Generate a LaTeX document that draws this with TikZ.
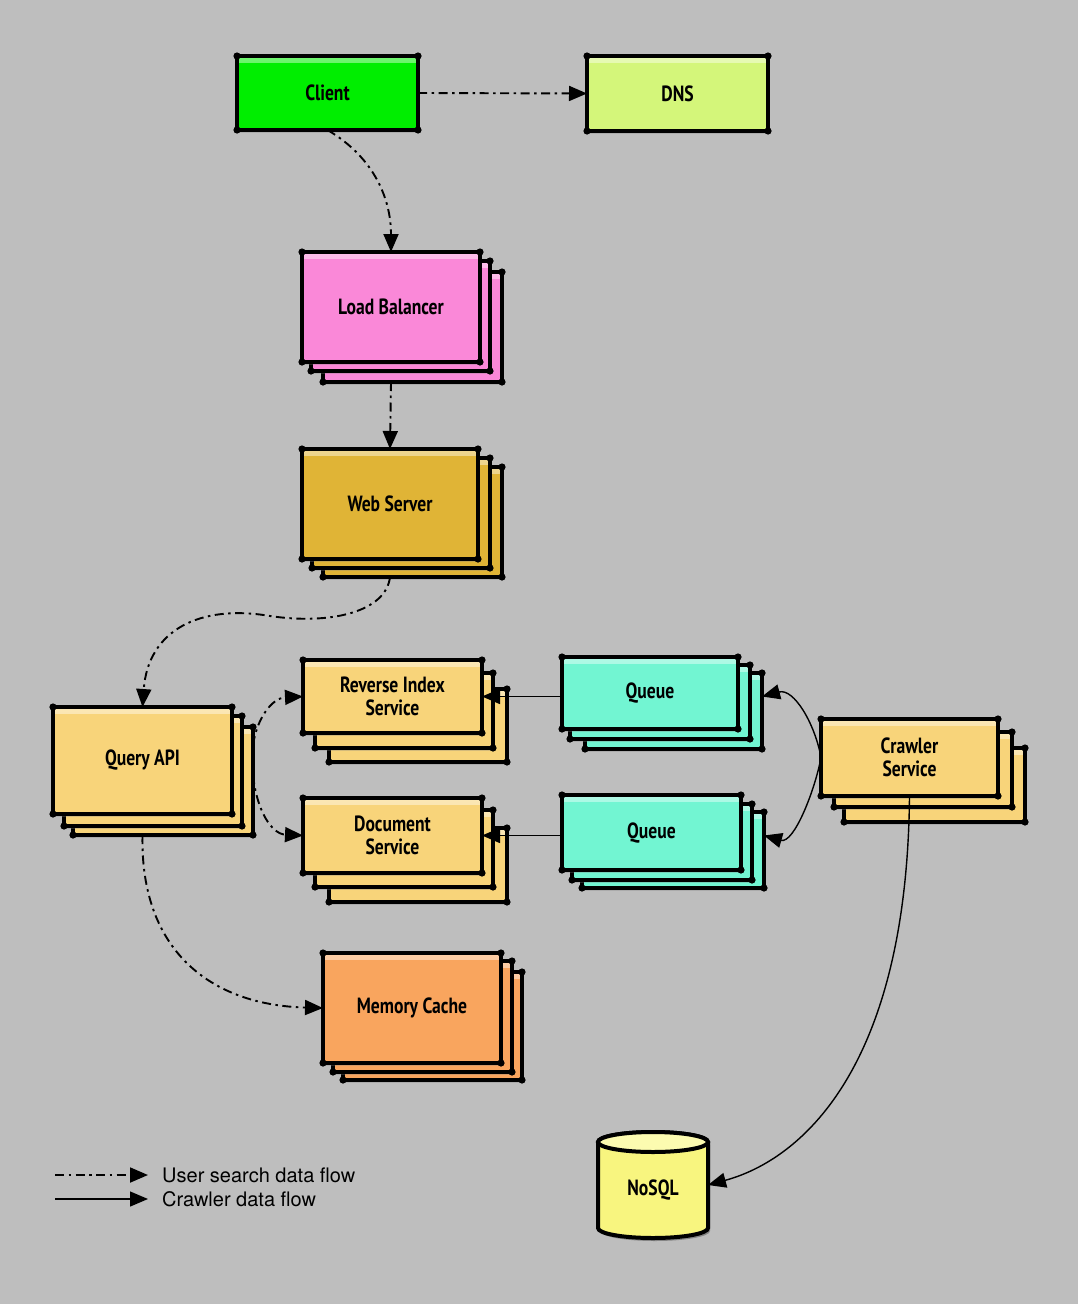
\documentclass[tikz,border=0pt]{standalone}
\usepackage{fontspec}
\usetikzlibrary{arrows.meta,shadows}
\newfontfamily\hand[FakeStretch=0.8]{PT Sans}
\newfontfamily\legendfont{TeX Gyre Heros}
\definecolor{cBg}{HTML}{BEBEBE}
\definecolor{cClient}{HTML}{00EE00}
\definecolor{cDNS}{HTML}{D4F67A}
\definecolor{cLB}{HTML}{FA88D8}
\definecolor{cWS}{HTML}{E0B436}
\definecolor{cSvc}{HTML}{F8D47A}
\definecolor{cQueue}{HTML}{72F5D2}
\definecolor{cMC}{HTML}{F9A55E}
\definecolor{cNoSQL}{HTML}{F8F57F}
\definecolor{cNoSQLtop}{HTML}{FCFBB0}
\tikzset{
  skb/.style={draw=black, line width=4pt, inner sep=0pt, outer sep=0pt,
    align=center, font=\hand\bfseries\fontsize{22}{23}\selectfont,
    drop shadow={shadow xshift=2pt, shadow yshift=-3pt, opacity=0.3}},
  user/.style={line width=1.9pt, dash pattern=on 9pt off 4.5pt on 2.5pt off 4.5pt,
    -{Triangle[length=18pt,width=15pt]}},
  crawl/.style={line width=1.4pt, -{Triangle[length=18pt,width=15pt]}},
  legtext/.style={anchor=west, inner sep=0pt, font=\legendfont\fontsize{20}{22}\selectfont}
}
\newcommand\skrect[7]{%
  \node[skb, fill=#6, minimum width={#4-#2}, minimum height={#5-#3},
    path picture={\shade[top color=#6!55!white, bottom color=#6]
      (path picture bounding box.north west) rectangle ([yshift=-6pt]path picture bounding box.north east);}
  ] (#1) at ({(#2+#4)/2},{(#3+#5)/2}) {#7};
  \foreach \cc in {north west,north east,south west,south east}{\fill (#1.\cc) circle[radius=3.6pt];}
}
\begin{document}
\begin{tikzpicture}[x=1pt,y=-1pt]
\fill[cBg] (0,0) rectangle (1078,1304);
\useasboundingbox (0,0) rectangle (1078,1304);

\skrect{client}{237}{56}{418}{130}{cClient}{Client}
\skrect{dns}{587}{56}{768}{131}{cDNS}{DNS}

\skrect{lb3}{323}{272}{502}{382}{cLB}{}
\skrect{lb2}{311}{261}{490}{371}{cLB}{}
\skrect{lb}{302}{252}{480}{362}{cLB}{Load Balancer}

\skrect{ws3}{323}{467}{502}{577}{cWS}{}
\skrect{ws2}{312}{458}{490}{568}{cWS}{}
\skrect{ws}{302}{449}{478}{559}{cWS}{Web Server}

\skrect{qa3}{73}{727}{253}{835}{cSvc}{}
\skrect{qa2}{64}{716}{242}{826}{cSvc}{}
\skrect{qa}{53}{707}{232}{814}{cSvc}{Query API}

\skrect{rev3}{329}{689}{507}{762}{cSvc}{}
\skrect{rev2}{315}{673}{493}{748}{cSvc}{}
\skrect{rev}{303}{660}{482}{733}{cSvc}{Reverse Index\\Service}

\skrect{doc3}{329}{828}{507}{902}{cSvc}{}
\skrect{doc2}{315}{810}{493}{887}{cSvc}{}
\skrect{doc}{303}{798}{482}{873}{cSvc}{Document\\Service}

\skrect{q13}{585}{673}{762}{749}{cQueue}{}
\skrect{q12}{570}{665}{750}{739}{cQueue}{}
\skrect{q1}{562}{657}{738}{729}{cQueue}{Queue}

\skrect{q23}{582}{812}{764}{888}{cQueue}{}
\skrect{q22}{572}{804}{752}{880}{cQueue}{}
\skrect{q2}{562}{795}{741}{870}{cQueue}{Queue}

\skrect{cs3}{844}{748}{1025}{822}{cSvc}{}
\skrect{cs2}{834}{732}{1012}{807}{cSvc}{}
\skrect{cs}{821}{719}{998}{796}{cSvc}{Crawler\\Service}

\skrect{mc3}{343}{972}{522}{1080}{cMC}{}
\skrect{mc2}{333}{961}{512}{1072}{cMC}{}
\skrect{mc}{323}{953}{501}{1063}{cMC}{Memory Cache}

% NoSQL cylinder
\node[inner sep=0pt, outer sep=0pt, minimum width=110pt, minimum height=106pt] (nosql) at (653,1185) {};
\fill[black, opacity=0.3]
  ([xshift=2pt,yshift=-13pt]nosql.north west) -- ([xshift=2pt,yshift=7pt]nosql.south west)
  arc[start angle=180, end angle=360, x radius=55pt, y radius=10pt]
  -- ([xshift=2pt,yshift=-13pt]nosql.north east) -- cycle;
\filldraw[fill=cNoSQL, draw=black, line width=4pt]
  ([yshift=-10pt]nosql.north west) -- ([yshift=10pt]nosql.south west)
  arc[start angle=180, end angle=360, x radius=55pt, y radius=10pt]
  -- ([yshift=-10pt]nosql.north east)
  arc[start angle=0, end angle=180, x radius=55pt, y radius=10pt] -- cycle;
\filldraw[fill=cNoSQLtop, draw=black, line width=4pt]
  ([yshift=-10pt]nosql.north) ellipse[x radius=55pt, y radius=10pt];
\node[font=\hand\bfseries\fontsize{22}{23}\selectfont] (nosqltext) at ([yshift=-5pt]nosql.center) {NoSQL};

% user search data flow
\draw[user] (client.east) -- (dns.west);
\draw[user] (client.south) .. controls (375,158) and (391,200) .. (lb.north);
\draw[user] (lb.south |- lb3.south) -- (ws.north);
\draw[user] (ws.south |- ws3.south) .. controls (386,612) and (330,625) .. (270,616)
  .. controls (200,604) and (148,630) .. (qa.north);
\draw[user] ([yshift=36pt]qa3.east) .. controls (257,718) and (272,698) .. (rev.west);
\draw[user] ([yshift=6pt]qa3.east) .. controls (257,812) and (272,834) .. (doc.west);
\draw[user] (qa.south |- qa3.south) .. controls (140,950) and (210,1005) .. (mc.west);

% crawler data flow
\draw[crawl] (q1.west |- rev.east) -- (rev.east);
\draw[crawl] (q2.west |- doc.east) -- (doc.east);
\draw[crawl] (cs.west) .. controls (815,724) and (794,688) .. (q13.east |- rev.east);
\draw[crawl] (cs.west) .. controls (815,790) and (794,844) .. (q23.east |- doc.east);
\draw[crawl] (cs.south) .. controls (907,1070) and (800,1160) .. (nosql.east);

% legend
\coordinate (l1a) at (55,1175);
\coordinate (l1b) at (148,1175);
\coordinate (l2a) at (55,1199);
\coordinate (l2b) at (148,1199);
\draw[user] (l1a) -- (l1b);
\draw[crawl] (l2a) -- (l2b);
\node[legtext] (lt1) at (162,1175) {User search data flow};
\node[legtext] (lt2) at (162,1199) {Crawler data flow};
\end{tikzpicture}
\end{document}
